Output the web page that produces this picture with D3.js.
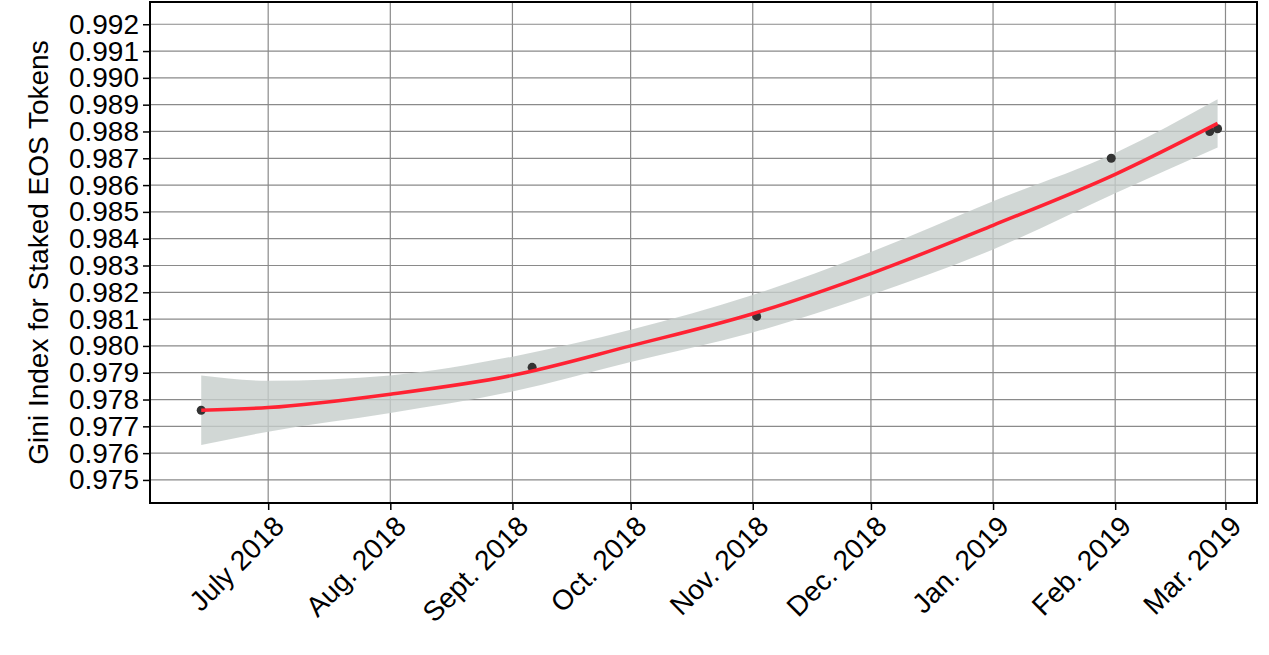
<!DOCTYPE html>
<html>
<head>
<meta charset="utf-8">
<script src="https://cdn.jsdelivr.net/npm/d3@7"></script>
<style>
  body { margin: 0; background: #fff; }
  text { font-family: "Liberation Sans", Arial, sans-serif; }
</style>
</head>
<body>
<div class="chart"></div>
<script>
// observed points
const pointDates = ["2018-06-14", "2018-09-06", "2018-11-02", "2019-01-31", "2019-02-25", "2019-02-27"];
const pointGini = [0.9776, 0.9792, 0.9811, 0.9870, 0.9880, 0.9881];

// fitted curve and confidence band
const fitDates = ["2018-06-14", "2018-07-01", "2018-08-01", "2018-09-01", "2018-10-01", "2018-11-01",
  "2018-12-01", "2019-01-01", "2019-02-01", "2019-02-27"];
const fitGini = [0.9776, 0.9777, 0.9782, 0.9789, 0.9800, 0.9812, 0.9827, 0.9845, 0.9864, 0.9883];
const fitLow = [0.9763, 0.9768, 0.9775, 0.9783, 0.9794, 0.9805, 0.9819, 0.9836, 0.9857, 0.9874];
const fitHigh = [0.9789, 0.9787, 0.9789, 0.9796, 0.9806, 0.9819, 0.9835, 0.9854, 0.9872, 0.9892];

const xTicks = ["2018-07-01", "2018-08-01", "2018-09-01", "2018-10-01", "2018-11-01",
  "2018-12-01", "2019-01-01", "2019-02-01", "2019-03-01"];
const xTickLabels = ["July 2018", "Aug. 2018", "Sept. 2018", "Oct. 2018", "Nov. 2018",
  "Dec. 2018", "Jan. 2019", "Feb. 2019", "Mar. 2019"];
const yTicks = d3.range(975, 993).map(v => v / 1000);

const width = 1269, height = 655;
const margin = {top: 2, right: 12, bottom: 152, left: 150};
const parse = d3.utcParse("%Y-%m-%d");

const svg = d3.select(".chart").append("svg").attr("width", width).attr("height", height);

const x = d3.scaleUtc()
  .domain([parse("2018-06-01"), parse("2019-03-09")])
  .range([margin.left, width - margin.right]);
const y = d3.scaleLinear()
  .domain([0.97414, 0.99283])
  .range([height - margin.bottom, margin.top]);

// grid
svg.append("g").selectAll("line").data(yTicks).join("line")
  .attr("x1", margin.left).attr("x2", width - margin.right)
  .attr("y1", d => y(d)).attr("y2", d => y(d))
  .attr("stroke", "#8a8a8a").attr("stroke-width", 1.2);
svg.append("g").selectAll("line").data(xTicks).join("line")
  .attr("x1", d => x(parse(d))).attr("x2", d => x(parse(d)))
  .attr("y1", margin.top).attr("y2", height - margin.bottom)
  .attr("stroke", "#8a8a8a").attr("stroke-width", 1.2);

const fit = fitDates.map((d, i) => ({date: parse(d), v: fitGini[i], lo: fitLow[i], hi: fitHigh[i]}));

svg.append("path").datum(fit)
  .attr("fill", "#c5cdca").attr("fill-opacity", 0.8)
  .attr("d", d3.area().curve(d3.curveMonotoneX)
    .x(d => x(d.date)).y0(d => y(d.lo)).y1(d => y(d.hi)));

svg.append("g").selectAll("circle").data(pointDates).join("circle")
  .attr("cx", d => x(parse(d))).attr("cy", (d, i) => y(pointGini[i]))
  .attr("r", 4.5).attr("fill", "#333");

svg.append("path").datum(fit)
  .attr("fill", "none").attr("stroke", "#ff2233").attr("stroke-width", 3.5)
  .attr("d", d3.line().curve(d3.curveMonotoneX).x(d => x(d.date)).y(d => y(d.v)));

// panel border
svg.append("rect")
  .attr("x", margin.left).attr("y", margin.top)
  .attr("width", width - margin.left - margin.right)
  .attr("height", height - margin.top - margin.bottom)
  .attr("fill", "none").attr("stroke", "#000").attr("stroke-width", 2);

// y axis
const yAxis = svg.append("g")
  .attr("transform", `translate(${margin.left},0)`)
  .call(d3.axisLeft(y).tickValues(yTicks).tickFormat(d3.format(".3f")).tickSize(7).tickPadding(4));
yAxis.select(".domain").remove();
yAxis.selectAll("line").attr("stroke-width", 1.5);
yAxis.selectAll("text").attr("font-size", 28).attr("fill", "#000")
  .style("font-family", "'Liberation Sans', Arial, sans-serif");

// x axis
const xAxis = svg.append("g")
  .attr("transform", `translate(0,${height - margin.bottom})`)
  .call(d3.axisBottom(x).tickValues(xTicks.map(parse))
    .tickFormat((d, i) => xTickLabels[i]).tickSize(7));
xAxis.select(".domain").remove();
xAxis.selectAll("line").attr("stroke-width", 1.5);
xAxis.selectAll("text")
  .attr("font-size", 28).attr("fill", "#000")
  .style("font-family", "'Liberation Sans', Arial, sans-serif")
  .attr("text-anchor", "end")
  .attr("dy", null)
  .attr("transform", "translate(10,18) rotate(-45)");

svg.append("text")
  .attr("transform", `translate(48,${(margin.top + height - margin.bottom) / 2}) rotate(-90)`)
  .attr("text-anchor", "middle")
  .attr("font-size", 28)
  .text("Gini Index for Staked EOS Tokens");
</script>
</body>
</html>
